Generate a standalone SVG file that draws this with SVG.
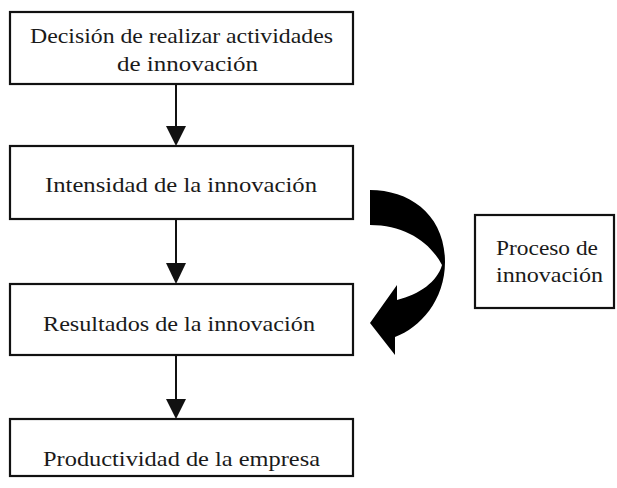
<svg xmlns="http://www.w3.org/2000/svg" width="617" height="488" viewBox="0 0 617 488">
<style>
.box{fill:#fff;stroke:#111;stroke-width:2.2}
.t{font-family:"Liberation Serif","Times New Roman",serif;font-size:22px;fill:#1a1a1a}
.line{stroke:#111;stroke-width:2;fill:none}
</style>
<defs>
<marker id="ah" markerWidth="10" markerHeight="10" refX="10" refY="5" orient="auto" markerUnits="userSpaceOnUse" viewBox="0 0 10 10">
<path d="M0,0 L10,5 L0,10 Z" fill="#111"/>
</marker>
</defs>
<rect width="617" height="488" fill="#fff"/>
<g id="connectors">
<line class="line" x1="176" y1="85" x2="176" y2="126"/>
<path d="M166,126 L186,126 L176,146 Z" fill="#111"/>
<line class="line" x1="176" y1="220" x2="176" y2="264"/>
<path d="M166,263 L186,263 L176,284 Z" fill="#111"/>
<line class="line" x1="176" y1="356" x2="176" y2="399"/>
<path d="M166,399 L186,399 L176,419 Z" fill="#111"/>
<path id="curved-arrow" d="M370,190 C410,190 445,215 445,262 C445,300 420,328 395,337 L395,355 L370,323 L397,285 L397,300 C420,294 437,282 442,265 C430,242 405,225 370,225 Z" fill="#000"/>
</g>
<g id="node-decision">
<rect class="box" x="10" y="12" width="343" height="72"/>
<text class="t" x="30" y="43" textLength="303" lengthAdjust="spacingAndGlyphs">Decisión de realizar actividades</text>
<text class="t" x="117" y="71" textLength="141" lengthAdjust="spacingAndGlyphs">de innovación</text>
</g>
<g id="node-intensidad">
<rect class="box" x="10" y="146" width="343" height="73"/>
<text class="t" x="45" y="192" textLength="272" lengthAdjust="spacingAndGlyphs">Intensidad de la innovación</text>
</g>
<g id="node-resultados">
<rect class="box" x="10" y="284" width="343" height="71"/>
<text class="t" x="43" y="331" textLength="272" lengthAdjust="spacingAndGlyphs">Resultados de la innovación</text>
</g>
<g id="node-productividad">
<rect class="box" x="10" y="419" width="343" height="57"/>
<text class="t" x="43" y="466" textLength="277" lengthAdjust="spacingAndGlyphs">Productividad de la empresa</text>
</g>
<g id="node-proceso">
<rect class="box" x="475" y="215" width="139" height="93"/>
<text class="t" x="496" y="255" textLength="102" lengthAdjust="spacingAndGlyphs">Proceso de</text>
<text class="t" x="496" y="282" textLength="107" lengthAdjust="spacingAndGlyphs">innovación</text>
</g>
</svg>
